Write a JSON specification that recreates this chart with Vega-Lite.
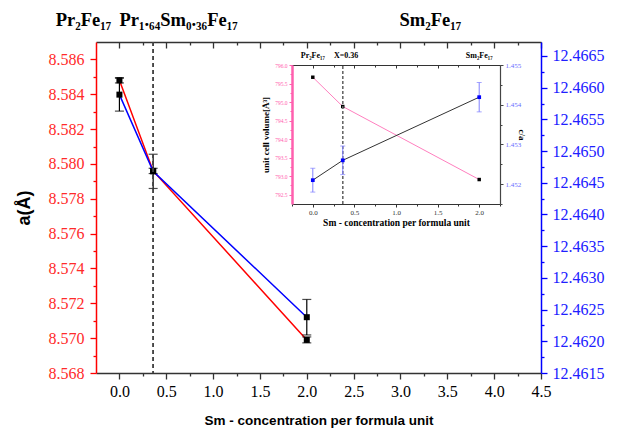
{
  "$schema": "https://vega.github.io/schema/vega-lite/v6.json",
  "width": 445,
  "height": 331,
  "autosize": {"type": "none"},
  "padding": {"left": 96, "top": 42, "right": 76, "bottom": 55},
  "background": "white",
  "config": {
    "view": {"stroke": null},
    "axis": {"grid": false, "labelFont": "Liberation Serif", "domainWidth": 1.5, "tickWidth": 1.3, "labelOverlap": false, "labelFlush": false, "tickCount": 200}
  },
  "datasets": {
    "main": [
      {"x": 0, "a": 8.5848, "a_lo": 8.58465, "a_hi": 8.58495, "c": 12.46589, "c_lo": 12.46563, "c_hi": 12.46615},
      {"x": 0.36, "a": 8.5796, "a_lo": 8.57945, "a_hi": 8.57975, "c": 12.46468, "c_lo": 12.46441, "c_hi": 12.46495},
      {"x": 2, "a": 8.5699, "a_lo": 8.56973, "a_hi": 8.57007, "c": 12.46238, "c_lo": 12.4621, "c_hi": 12.46266}
    ],
    "inset": [
      {"x": 0, "vol": 795.67, "ca": 1.4521, "ca_lo": 1.4518, "ca_hi": 1.4524},
      {"x": 0.36, "vol": 794.88, "ca": 1.4526, "ca_lo": 1.45224, "ca_hi": 1.45296},
      {"x": 2, "vol": 792.91, "ca": 1.45419, "ca_lo": 1.45382, "ca_hi": 1.45456}
    ],
    "mainLabels": [
      {"label": "Pr₂Fe₁₇", "lx": -0.68},
      {"label": "Pr₁.₆₄Sm₀.₃₆Fe₁₇", "lx": 0.0},
      {"label": "Sm₂Fe₁₇", "lx": 2.99}
    ],
    "insetLabels": [
      {"label": "Pr₂Fe₁₇", "lx": 0},
      {"label": "X=0.36", "lx": 0.4},
      {"label": "Sm₂Fe₁₇", "lx": 2}
    ]
  },
  "layer": [
    {
      "data": {"name": "main"},
      "layer": [
        {
          "layer": [
            {
              "mark": {"type": "line", "color": "#ff0000", "strokeWidth": 1.5},
              "encoding": {
                "x": {"field": "x", "type": "quantitative", "scale": {"domain": [-0.25, 4.5], "nice": false, "zero": false},
                  "axis": {"orient": "bottom", "tickCount": 200, "values": [0,0.25,0.5,0.75,1,1.25,1.5,1.75,2,2.25,2.5,2.75,3,3.25,3.5,3.75,4,4.25,4.5],
                    "labelExpr": "abs(datum.value*2-round(datum.value*2))<0.001 ? format(datum.value,'.1f') : ''",
                    "tickSize": {"condition": {"test": "abs(datum.value*2-round(datum.value*2))<0.001", "value": 6}, "value": 3},
                    "labelOverlap": false, "labelFontSize": 16, "labelColor": "black", "labelPadding": 4, "domainColor": "#333", "tickColor": "#333",
                    "title": "Sm - concentration per formula unit", "titleFont": "Liberation Sans", "titleFontSize": 13.5, "titleFontWeight": "bold", "titleColor": "black", "titlePadding": 14}},
                "y": {"field": "a", "type": "quantitative", "scale": {"domain": [8.568, 8.587], "nice": false, "zero": false},
                  "axis": {"orient": "left", "tickCount": 200, "values": [8.568,8.569,8.57,8.571,8.572,8.573,8.574,8.575,8.576,8.577,8.578,8.579,8.58,8.581,8.582,8.583,8.584,8.585,8.586],
                    "labelExpr": "round(datum.value*1000)%2==0 ? format(datum.value,'.3f') : ''",
                    "tickSize": {"condition": {"test": "round(datum.value*1000)%2==0", "value": 6}, "value": 3},
                    "labelOverlap": false, "domainColor": "#ff0000", "tickColor": "#ff0000", "labelColor": "#ff2a2a", "labelFontSize": 16, "labelPadding": 6,
                    "title": "a(Å)", "titleFont": "Liberation Sans", "titleFontSize": 18, "titleFontWeight": "bold", "titleColor": "black", "titlePadding": 15}}
              }
            },
            {
              "mark": {"type": "rule", "color": "black", "strokeWidth": 1.2},
              "encoding": {
                "x": {"field": "x", "type": "quantitative", "scale": {"domain": [-0.25, 4.5], "nice": false, "zero": false}},
                "y": {"field": "a_lo", "type": "quantitative", "scale": {"domain": [8.568, 8.587], "nice": false, "zero": false}},
                "y2": {"field": "a_hi"}
              }
            },
            {
              "mark": {"type": "tick", "orient": "horizontal", "color": "black", "size": 9, "thickness": 1.2},
              "encoding": {
                "x": {"field": "x", "type": "quantitative", "scale": {"domain": [-0.25, 4.5], "nice": false, "zero": false}},
                "y": {"field": "a_lo", "type": "quantitative", "scale": {"domain": [8.568, 8.587], "nice": false, "zero": false}}
              }
            },
            {
              "mark": {"type": "tick", "orient": "horizontal", "color": "black", "size": 9, "thickness": 1.2},
              "encoding": {
                "x": {"field": "x", "type": "quantitative", "scale": {"domain": [-0.25, 4.5], "nice": false, "zero": false}},
                "y": {"field": "a_hi", "type": "quantitative", "scale": {"domain": [8.568, 8.587], "nice": false, "zero": false}}
              }
            },
            {
              "mark": {"type": "square", "color": "black", "size": 36, "opacity": 1},
              "encoding": {
                "x": {"field": "x", "type": "quantitative", "scale": {"domain": [-0.25, 4.5], "nice": false, "zero": false}},
                "y": {"field": "a", "type": "quantitative", "scale": {"domain": [8.568, 8.587], "nice": false, "zero": false}}
              }
            },
            {
              "data": {"name": "mainLabels"},
              "mark": {"type": "text", "font": "Liberation Serif", "fontWeight": "bold", "fontSize": 18.5, "align": "left", "baseline": "alphabetic", "color": "black"},
              "encoding": {
                "x": {"field": "lx", "type": "quantitative", "scale": {"domain": [-0.25, 4.5], "nice": false, "zero": false}},
                "y": {"datum": 8.5879, "type": "quantitative", "scale": {"domain": [8.568, 8.587], "nice": false, "zero": false}},
                "text": {"field": "label"}
              }
            }
          ]
        },
        {
          "layer": [
            {
              "mark": {"type": "line", "color": "#0000ff", "strokeWidth": 1.5},
              "encoding": {
                "x": {"field": "x", "type": "quantitative", "scale": {"domain": [-0.25, 4.5], "nice": false, "zero": false}, "axis": null},
                "y": {"field": "c", "type": "quantitative", "scale": {"domain": [12.4615, 12.46672], "nice": false, "zero": false},
                  "axis": {"orient": "right", "tickCount": 200, "values": [12.4615,12.46175,12.462,12.46225,12.4625,12.46275,12.463,12.46325,12.4635,12.46375,12.464,12.46425,12.4645,12.46475,12.465,12.46525,12.4655,12.46575,12.466,12.46625,12.4665],
                    "labelExpr": "round(datum.value*10000)%5==0 ? format(datum.value,'.4f') : ''",
                    "tickSize": {"condition": {"test": "round(datum.value*10000)%5==0", "value": 6}, "value": 3},
                    "labelOverlap": false, "domainColor": "#0000ff", "tickColor": "#0000ff", "labelColor": "#2020ff", "labelFontSize": 16, "labelPadding": 5, "title": null}}
              }
            },
            {
              "mark": {"type": "rule", "color": "black", "strokeWidth": 1.2},
              "encoding": {
                "x": {"field": "x", "type": "quantitative", "scale": {"domain": [-0.25, 4.5], "nice": false, "zero": false}, "axis": null},
                "y": {"field": "c_lo", "type": "quantitative", "scale": {"domain": [12.4615, 12.46672], "nice": false, "zero": false}},
                "y2": {"field": "c_hi"}
              }
            },
            {
              "mark": {"type": "tick", "orient": "horizontal", "color": "black", "size": 9, "thickness": 1.2},
              "encoding": {
                "x": {"field": "x", "type": "quantitative", "scale": {"domain": [-0.25, 4.5], "nice": false, "zero": false}, "axis": null},
                "y": {"field": "c_lo", "type": "quantitative", "scale": {"domain": [12.4615, 12.46672], "nice": false, "zero": false}}
              }
            },
            {
              "mark": {"type": "tick", "orient": "horizontal", "color": "black", "size": 9, "thickness": 1.2},
              "encoding": {
                "x": {"field": "x", "type": "quantitative", "scale": {"domain": [-0.25, 4.5], "nice": false, "zero": false}, "axis": null},
                "y": {"field": "c_hi", "type": "quantitative", "scale": {"domain": [12.4615, 12.46672], "nice": false, "zero": false}}
              }
            },
            {
              "mark": {"type": "square", "color": "black", "size": 36, "opacity": 1},
              "encoding": {
                "x": {"field": "x", "type": "quantitative", "scale": {"domain": [-0.25, 4.5], "nice": false, "zero": false}, "axis": null},
                "y": {"field": "c", "type": "quantitative", "scale": {"domain": [12.4615, 12.46672], "nice": false, "zero": false}}
              }
            }
          ]
        },
        {
          "mark": {"type": "rule", "color": "#444444", "strokeDash": [4, 3], "strokeWidth": 1.3},
          "encoding": {
            "x": {"datum": 0.36, "type": "quantitative", "scale": {"domain": [-0.25, 4.5], "nice": false, "zero": false},
              "axis": {"orient": "top", "tickCount": 200, "values": [0,0.25,0.5,0.75,1,1.25,1.5,1.75,2,2.25,2.5,2.75,3,3.25,3.5,3.75,4,4.25,4.5],
                "labels": false, "title": null, "domainColor": "#333", "tickColor": "#333",
                "tickSize": {"condition": {"test": "abs(datum.value*2-round(datum.value*2))<0.001", "value": -6}, "value": -3}}}
          }
        }
      ],
      "resolve": {"scale": {"y": "independent"}}
    },
    {
      "data": {"name": "inset"},
      "layer": [
        {
          "layer": [
            {
              "mark": {"type": "line", "color": "#ff7fbf", "strokeWidth": 1},
              "encoding": {
                "x": {"field": "x", "type": "quantitative", "scale": {"domain": [-0.25, 2.25], "range": [196, 404], "nice": false, "zero": false},
                  "axis": {"orient": "bottom", "offset": -169, "tickCount": 200, "values": [-0.25,0,0.25,0.5,0.75,1,1.25,1.5,1.75,2,2.25],
                    "labelExpr": "abs(datum.value*2-round(datum.value*2))<0.001 && datum.value>=0 ? format(datum.value,'.1f') : ''",
                    "tickSize": {"condition": {"test": "abs(datum.value*2-round(datum.value*2))<0.001", "value": 3}, "value": 2},
                    "labelOverlap": false, "labelFontSize": 7, "labelColor": "#333", "labelPadding": 1, "domainColor": "#333", "tickColor": "#333", "domainWidth": 1, "tickWidth": 1,
                    "title": "Sm - concentration per formula unit", "titleFont": "Liberation Serif", "titleFontSize": 9.5, "titleFontWeight": "bold", "titleColor": "black", "titlePadding": 2}},
                "y": {"field": "vol", "type": "quantitative", "scale": {"domain": [792.25, 796.0], "range": [162, 23], "nice": false, "zero": false},
                  "axis": {"orient": "left", "offset": -196, "tickCount": 200, "values": [792.5,792.75,793,793.25,793.5,793.75,794,794.25,794.5,794.75,795,795.25,795.5,795.75,796],
                    "labelExpr": "abs(datum.value*2-round(datum.value*2))<0.001 ? format(datum.value,'.1f') : ''",
                    "tickSize": {"condition": {"test": "abs(datum.value*2-round(datum.value*2))<0.001", "value": 3}, "value": 2},
                    "labelOverlap": false, "domainColor": "#ff5fae", "domainWidth": 2.5, "tickColor": "#ff5fae", "tickWidth": 1, "labelColor": "#ff5fae", "labelFontSize": 5.5, "labelPadding": 2,
                    "title": "unit cell volume[Å³]", "titleFont": "Liberation Serif", "titleFontSize": 9, "titleFontWeight": "bold", "titleColor": "black", "titlePadding": 4}}
              }
            },
            {
              "mark": {"type": "square", "color": "black", "size": 12, "opacity": 1},
              "encoding": {
                "x": {"field": "x", "type": "quantitative", "scale": {"domain": [-0.25, 2.25], "range": [196, 404], "nice": false, "zero": false}, "axis": null},
                "y": {"field": "vol", "type": "quantitative", "scale": {"domain": [792.25, 796.0], "range": [162, 23], "nice": false, "zero": false}}
              }
            },
            {
              "mark": {"type": "rule", "color": "#666666", "strokeDash": [3, 2], "strokeWidth": 1},
              "encoding": {
                "x": {"datum": 0.36, "type": "quantitative", "scale": {"domain": [-0.25, 2.25], "range": [196, 404], "nice": false, "zero": false},
                  "axis": {"orient": "top", "offset": -23, "tickCount": 200, "values": [-0.25,0,0.25,0.5,0.75,1,1.25,1.5,1.75,2,2.25],
                    "labels": false, "title": null, "domainColor": "#333", "tickColor": "#333", "domainWidth": 1, "tickWidth": 1,
                    "tickSize": {"condition": {"test": "abs(datum.value*2-round(datum.value*2))<0.001", "value": -3}, "value": -2}}},
                "y": {"datum": 792.25, "type": "quantitative", "scale": {"domain": [792.25, 796.0], "range": [162, 23], "nice": false, "zero": false}},
                "y2": {"datum": 796.0}
              }
            },
            {
              "data": {"name": "insetLabels"},
              "mark": {"type": "text", "font": "Liberation Serif", "fontWeight": "bold", "fontSize": 8, "align": "center", "baseline": "alphabetic", "color": "black"},
              "encoding": {
                "x": {"field": "lx", "type": "quantitative", "scale": {"domain": [-0.25, 2.25], "range": [196, 404], "nice": false, "zero": false}, "axis": null},
                "y": {"datum": 796.2, "type": "quantitative", "scale": {"domain": [792.25, 796.0], "range": [162, 23], "nice": false, "zero": false}},
                "text": {"field": "label"}
              }
            }
          ]
        },
        {
          "layer": [
            {
              "mark": {"type": "rule", "color": "#8080ff", "strokeWidth": 1},
              "encoding": {
                "x": {"field": "x", "type": "quantitative", "scale": {"domain": [-0.25, 2.25], "range": [196, 404], "nice": false, "zero": false}, "axis": null},
                "y": {"field": "ca_lo", "type": "quantitative", "scale": {"domain": [1.4515, 1.455], "range": [162, 23], "nice": false, "zero": false},
                  "axis": {"orient": "right", "offset": -41, "tickCount": 200, "values": [1.4515,1.452,1.4525,1.453,1.4535,1.454,1.4545,1.455],
                    "labelExpr": "abs(datum.value*1000-round(datum.value*1000))<0.01 ? format(datum.value,'.3f') : ''",
                    "tickSize": {"condition": {"test": "abs(datum.value*1000-round(datum.value*1000))<0.01", "value": 3}, "value": 2},
                    "labelOverlap": false, "domainColor": "#444", "domainWidth": 1.2, "tickColor": "#444", "tickWidth": 1, "labelColor": "#6a6aff", "labelFontSize": 7, "labelPadding": 2,
                    "title": "c/a", "titleFont": "Liberation Serif", "titleFontSize": 9, "titleFontWeight": "bold", "titleColor": "black", "titlePadding": -4}},
                "y2": {"field": "ca_hi"}
              }
            },
            {
              "mark": {"type": "tick", "orient": "horizontal", "color": "#8080ff", "size": 5, "thickness": 1},
              "encoding": {
                "x": {"field": "x", "type": "quantitative", "scale": {"domain": [-0.25, 2.25], "range": [196, 404], "nice": false, "zero": false}, "axis": null},
                "y": {"field": "ca_lo", "type": "quantitative", "scale": {"domain": [1.4515, 1.455], "range": [162, 23], "nice": false, "zero": false}}
              }
            },
            {
              "mark": {"type": "tick", "orient": "horizontal", "color": "#8080ff", "size": 5, "thickness": 1},
              "encoding": {
                "x": {"field": "x", "type": "quantitative", "scale": {"domain": [-0.25, 2.25], "range": [196, 404], "nice": false, "zero": false}, "axis": null},
                "y": {"field": "ca_hi", "type": "quantitative", "scale": {"domain": [1.4515, 1.455], "range": [162, 23], "nice": false, "zero": false}}
              }
            },
            {
              "mark": {"type": "line", "color": "#333333", "strokeWidth": 1},
              "encoding": {
                "x": {"field": "x", "type": "quantitative", "scale": {"domain": [-0.25, 2.25], "range": [196, 404], "nice": false, "zero": false}, "axis": null},
                "y": {"field": "ca", "type": "quantitative", "scale": {"domain": [1.4515, 1.455], "range": [162, 23], "nice": false, "zero": false}}
              }
            },
            {
              "mark": {"type": "square", "color": "#0000ff", "size": 14, "opacity": 1},
              "encoding": {
                "x": {"field": "x", "type": "quantitative", "scale": {"domain": [-0.25, 2.25], "range": [196, 404], "nice": false, "zero": false}, "axis": null},
                "y": {"field": "ca", "type": "quantitative", "scale": {"domain": [1.4515, 1.455], "range": [162, 23], "nice": false, "zero": false}}
              }
            }
          ]
        }
      ],
      "resolve": {"scale": {"y": "independent"}}
    }
  ],
  "resolve": {"scale": {"x": "independent", "y": "independent"}}
}
